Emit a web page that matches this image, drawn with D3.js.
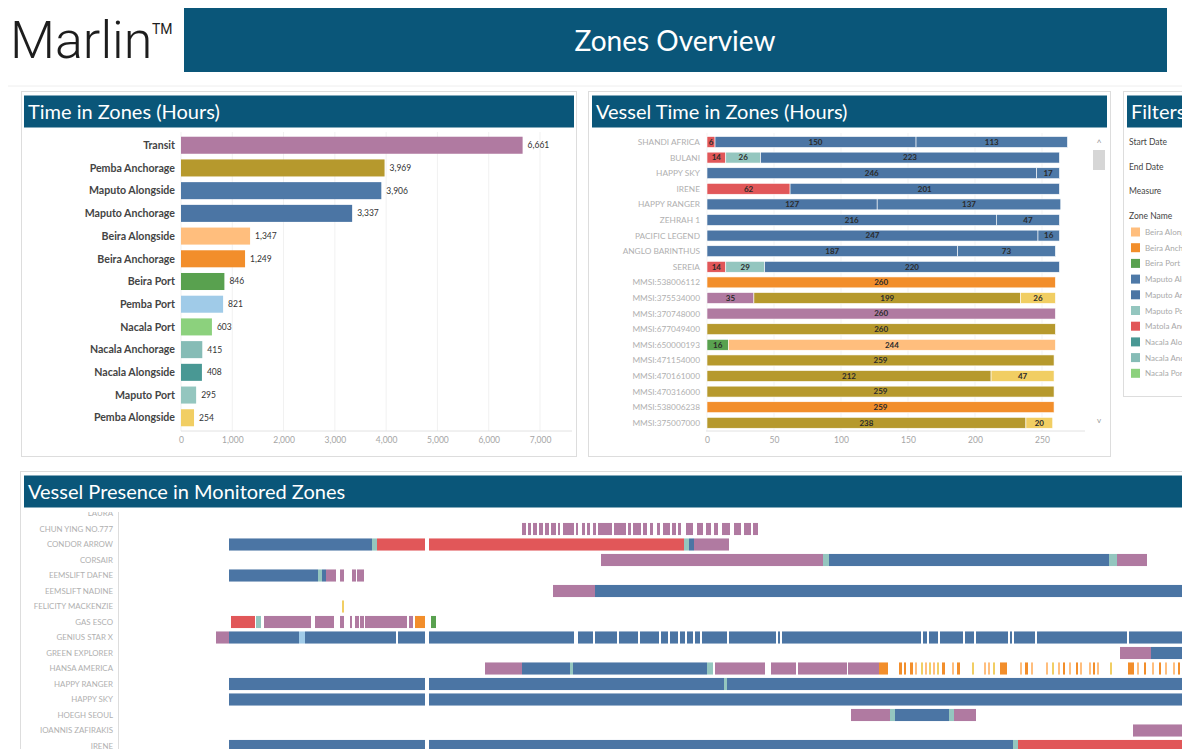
<!DOCTYPE html>
<html>
<head>
<meta charset="utf-8">
<title>Zones Overview</title>
<script src="https://cdn.jsdelivr.net/npm/d3@7"></script>
<style>
  body { margin: 0; background: #fff; overflow: hidden; }
  svg { display: block; font-family: Lato, "Open Sans", sans-serif; }
  .hdr { fill: #0a5679; }
  .hdrText { fill: #fff; font-family: Lato, sans-serif; font-size: 20px; }
  .panel { fill: #fff; stroke: #dddddd; }
  .axis text { fill: #a5a5a5; font-size: 8.5px; font-family: Lato, sans-serif; }
  .axis path, .axis line { stroke: none; }
</style>
</head>
<body>
<script>
// zone totals for the "Time in Zones" panel
var zoneNames = ["Transit", "Pemba Anchorage", "Maputo Alongside", "Maputo Anchorage", "Beira Alongside",
    "Beira Anchorage", "Beira Port", "Pemba Port", "Nacala Port", "Nacala Anchorage", "Nacala Alongside",
    "Maputo Port", "Pemba Alongside"];
var zoneHours = [6661, 3969, 3906, 3337, 1347, 1249, 846, 821, 603, 415, 408, 295, 254];
var zoneTicks = [0, 1000, 2000, 3000, 4000, 5000, 6000, 7000];

// vessel stacked hours, one list of [zone, hours] per vessel
var vesselNames = ["SHANDI AFRICA", "BULANI", "HAPPY SKY", "IRENE", "HAPPY RANGER", "ZEHRAH 1", "PACIFIC LEGEND",
    "ANGLO BARINTHUS", "SEREIA", "MMSI:538006112", "MMSI:375534000", "MMSI:370748000", "MMSI:677049400",
    "MMSI:650000193", "MMSI:471154000", "MMSI:470161000", "MMSI:470316000", "MMSI:538006238", "MMSI:375007000"];
var vesselStacks = [
    [["Matola Anchorage", 6], ["Maputo Anchorage", 150], ["Maputo Alongside", 113]],
    [["Matola Anchorage", 14], ["Maputo Port", 26], ["Maputo Anchorage", 223]],
    [["Maputo Anchorage", 246], ["Maputo Alongside", 17]],
    [["Matola Anchorage", 62], ["Maputo Anchorage", 201]],
    [["Maputo Anchorage", 127], ["Maputo Alongside", 137]],
    [["Maputo Anchorage", 216], ["Maputo Alongside", 47]],
    [["Maputo Anchorage", 247], ["Maputo Alongside", 16]],
    [["Maputo Anchorage", 187], ["Maputo Alongside", 73]],
    [["Matola Anchorage", 14], ["Maputo Port", 29], ["Maputo Anchorage", 220]],
    [["Beira Anchorage", 260]],
    [["Transit", 35], ["Pemba Anchorage", 199], ["Pemba Alongside", 26]],
    [["Transit", 260]],
    [["Pemba Anchorage", 260]],
    [["Beira Port", 16], ["Beira Alongside", 244]],
    [["Pemba Anchorage", 259]],
    [["Pemba Anchorage", 212], ["Pemba Alongside", 47]],
    [["Pemba Anchorage", 259]],
    [["Beira Anchorage", 259]],
    [["Pemba Anchorage", 238], ["Pemba Alongside", 20]]
];
var vesselTicks = [0, 50, 100, 150, 200, 250];

// filters panel
var filterLabels = ["Start Date", "End Date", "Measure", "Zone Name"];
var legendZones = ["Beira Alongside", "Beira Anchorage", "Beira Port", "Maputo Alongside", "Maputo Anchorage",
    "Maputo Port", "Matola Anchorage", "Nacala Alongside", "Nacala Anchorage", "Nacala Port"];

// presence timeline, hours from the period start
var ganttVessels = ["LAURA", "CHUN YING NO.777", "CONDOR ARROW", "CORSAIR", "EEMSLIFT DAFNE", "EEMSLIFT NADINE",
    "FELICITY MACKENZIE", "GAS ESCO", "GENIUS STAR X", "GREEN EXPLORER", "HANSA AMERICA", "HAPPY RANGER",
    "HAPPY SKY", "HOEGH SEOUL", "IOANNIS ZAFIRAKIS", "IRENE"];
var zoneCodes = { T: "Transit", MA: "Maputo Anchorage", MP: "Maputo Port", MT: "Matola Anchorage",
    BAn: "Beira Anchorage", BAl: "Beira Alongside", BP: "Beira Port", PAl: "Pemba Alongside", PP: "Pemba Port" };
var ganttSpans = [
    // vessel, zone, start, end
    ["CHUN YING NO.777", "T", 73.25, 74.25], ["CHUN YING NO.777", "T", 74.75, 75.5], ["CHUN YING NO.777", "T", 76, 77],
    ["CHUN YING NO.777", "T", 77.5, 78.5], ["CHUN YING NO.777", "T", 79, 80], ["CHUN YING NO.777", "T", 80.5, 81.75],
    ["CHUN YING NO.777", "T", 82.25, 82.75], ["CHUN YING NO.777", "T", 83.5, 86.25], ["CHUN YING NO.777", "T", 86.75, 87.25],
    ["CHUN YING NO.777", "T", 88.25, 89], ["CHUN YING NO.777", "T", 89.5, 90.25], ["CHUN YING NO.777", "T", 91, 91.75],
    ["CHUN YING NO.777", "T", 92.25, 95.75], ["CHUN YING NO.777", "T", 96.25, 99.25], ["CHUN YING NO.777", "T", 99.75, 100.5],
    ["CHUN YING NO.777", "T", 101, 103], ["CHUN YING NO.777", "T", 103.5, 104.5], ["CHUN YING NO.777", "T", 105.25, 106],
    ["CHUN YING NO.777", "T", 107, 107.75], ["CHUN YING NO.777", "T", 108.5, 110.25], ["CHUN YING NO.777", "T", 110.75, 111.75],
    ["CHUN YING NO.777", "T", 112.25, 113], ["CHUN YING NO.777", "T", 114.25, 116], ["CHUN YING NO.777", "T", 117, 118.5],
    ["CHUN YING NO.777", "T", 119.25, 120.5], ["CHUN YING NO.777", "T", 121.25, 122.25], ["CHUN YING NO.777", "T", 123.25, 125.25],
    ["CHUN YING NO.777", "T", 126.25, 128], ["CHUN YING NO.777", "T", 128.75, 130.5], ["CHUN YING NO.777", "T", 131, 132.25],
    ["CONDOR ARROW", "MA", 0, 35.75], ["CONDOR ARROW", "MP", 35.75, 37], ["CONDOR ARROW", "MT", 37, 49],
    ["CONDOR ARROW", "MT", 50, 113.75], ["CONDOR ARROW", "MP", 113.75, 115], ["CONDOR ARROW", "MA", 115, 116.25],
    ["CONDOR ARROW", "T", 116.25, 125],
    ["CORSAIR", "T", 93, 148.5], ["CORSAIR", "MP", 148.5, 150], ["CORSAIR", "MA", 150, 220],
    ["CORSAIR", "MP", 220, 222], ["CORSAIR", "T", 222, 229.5],
    ["EEMSLIFT DAFNE", "MA", 0, 22.25], ["EEMSLIFT DAFNE", "MP", 22.25, 23.25], ["EEMSLIFT DAFNE", "MA", 23.25, 24.25],
    ["EEMSLIFT DAFNE", "T", 24.25, 26.75], ["EEMSLIFT DAFNE", "T", 27.75, 28.75], ["EEMSLIFT DAFNE", "T", 30.75, 31.75],
    ["EEMSLIFT DAFNE", "T", 32, 33.75],
    ["EEMSLIFT NADINE", "T", 81, 91.5], ["EEMSLIFT NADINE", "MA", 91.5, 245],
    ["FELICITY MACKENZIE", "PAl", 28.25, 28.75],
    ["GAS ESCO", "MT", 0.5, 6.5], ["GAS ESCO", "MP", 6.75, 8], ["GAS ESCO", "T", 8.75, 20.5],
    ["GAS ESCO", "T", 21.5, 26.25], ["GAS ESCO", "T", 27.75, 28.75], ["GAS ESCO", "T", 30.25, 30.75],
    ["GAS ESCO", "T", 31.5, 32.5], ["GAS ESCO", "T", 32.75, 33.75], ["GAS ESCO", "T", 34, 44.5],
    ["GAS ESCO", "T", 45, 46], ["GAS ESCO", "BAn", 46.5, 49], ["GAS ESCO", "BP", 50.5, 51.75],
    ["GENIUS STAR X", "T", -3.25, 0], ["GENIUS STAR X", "MA", 0, 17.5], ["GENIUS STAR X", "PP", 17.5, 19],
    ["GENIUS STAR X", "MA", 19, 41.75], ["GENIUS STAR X", "MA", 42.25, 49], ["GENIUS STAR X", "MA", 50, 86.25],
    ["GENIUS STAR X", "MA", 87.25, 91], ["GENIUS STAR X", "MA", 91.5, 97], ["GENIUS STAR X", "MA", 97.5, 102.25],
    ["GENIUS STAR X", "MA", 102.75, 107.5], ["GENIUS STAR X", "MA", 108, 109.75], ["GENIUS STAR X", "MA", 110.25, 112.25],
    ["GENIUS STAR X", "MA", 112.75, 114], ["GENIUS STAR X", "MA", 114.5, 116], ["GENIUS STAR X", "MA", 116.5, 117.75],
    ["GENIUS STAR X", "MA", 118.25, 124.5], ["GENIUS STAR X", "MA", 125, 136.75], ["GENIUS STAR X", "MA", 137.25, 137.75],
    ["GENIUS STAR X", "MA", 138.25, 173], ["GENIUS STAR X", "MA", 173.5, 174.5], ["GENIUS STAR X", "MA", 175, 177.25],
    ["GENIUS STAR X", "MA", 177.75, 183.5], ["GENIUS STAR X", "MA", 184, 186.25], ["GENIUS STAR X", "MA", 186.75, 194.75],
    ["GENIUS STAR X", "MA", 195.25, 195.75], ["GENIUS STAR X", "MA", 196.25, 201.5], ["GENIUS STAR X", "MA", 202, 224.5],
    ["GENIUS STAR X", "MA", 225, 245],
    ["GREEN EXPLORER", "T", 222.75, 230.5], ["GREEN EXPLORER", "MA", 230.5, 245],
    ["HANSA AMERICA", "T", 64, 73.25], ["HANSA AMERICA", "MA", 73.25, 85.25], ["HANSA AMERICA", "MP", 85.25, 86],
    ["HANSA AMERICA", "MA", 86, 119.5], ["HANSA AMERICA", "MP", 119.5, 121], ["HANSA AMERICA", "T", 121.5, 134],
    ["HANSA AMERICA", "T", 135.5, 141.75], ["HANSA AMERICA", "T", 142.25, 154.5], ["HANSA AMERICA", "T", 154.75, 162.5],
    ["HANSA AMERICA", "BAn", 162.5, 164.75], ["HANSA AMERICA", "BAn", 167.5, 168.25], ["HANSA AMERICA", "BAn", 168.75, 169.25],
    ["HANSA AMERICA", "BAn", 170.25, 171], ["HANSA AMERICA", "BAl", 171.5, 172], ["HANSA AMERICA", "PAl", 173, 173.5],
    ["HANSA AMERICA", "BAl", 174, 174.5], ["HANSA AMERICA", "PAl", 175, 175.5], ["HANSA AMERICA", "BAl", 176, 176.5],
    ["HANSA AMERICA", "PAl", 177, 177.5], ["HANSA AMERICA", "BAn", 178.25, 179], ["HANSA AMERICA", "BAl", 180.75, 181.25],
    ["HANSA AMERICA", "BAn", 182, 182.75], ["HANSA AMERICA", "PAl", 185.75, 186.25], ["HANSA AMERICA", "BAl", 188.75, 189.25],
    ["HANSA AMERICA", "BAl", 189.75, 190.25], ["HANSA AMERICA", "PAl", 191, 191.5], ["HANSA AMERICA", "BAn", 192.75, 194.5],
    ["HANSA AMERICA", "BAl", 197.75, 198.25], ["HANSA AMERICA", "BAn", 199, 199.75], ["HANSA AMERICA", "BAl", 200.5, 201],
    ["HANSA AMERICA", "BAl", 204.25, 204.75], ["HANSA AMERICA", "PAl", 205.75, 206.25], ["HANSA AMERICA", "BAl", 207.25, 207.75],
    ["HANSA AMERICA", "BAn", 208.5, 209], ["HANSA AMERICA", "BAl", 210, 210.5], ["HANSA AMERICA", "BAn", 211.75, 212.25],
    ["HANSA AMERICA", "BAl", 212.75, 213.25], ["HANSA AMERICA", "BAl", 215, 215.5], ["HANSA AMERICA", "BAn", 216, 216.5],
    ["HANSA AMERICA", "BAl", 217, 217.5], ["HANSA AMERICA", "PAl", 220.25, 220.75], ["HANSA AMERICA", "BAn", 224.75, 226.25],
    ["HANSA AMERICA", "BAl", 227, 227.5], ["HANSA AMERICA", "BAn", 228.75, 229.25], ["HANSA AMERICA", "BAl", 230.75, 231.25],
    ["HANSA AMERICA", "BAn", 232.5, 233], ["HANSA AMERICA", "BAl", 234, 234.5], ["HANSA AMERICA", "BAl", 236, 236.5],
    ["HANSA AMERICA", "BAn", 237.25, 237.75],
    ["HAPPY RANGER", "MA", 0, 49], ["HAPPY RANGER", "MA", 50, 123.75], ["HAPPY RANGER", "MP", 123.75, 124.5],
    ["HAPPY RANGER", "MA", 124.5, 245],
    ["HAPPY SKY", "MA", 0, 49], ["HAPPY SKY", "MA", 50, 245],
    ["HOEGH SEOUL", "T", 155.5, 165.25], ["HOEGH SEOUL", "MP", 165.25, 166.5], ["HOEGH SEOUL", "MA", 166.5, 180],
    ["HOEGH SEOUL", "MP", 180, 181.25], ["HOEGH SEOUL", "T", 181.25, 186.75],
    ["IOANNIS ZAFIRAKIS", "T", 226, 245],
    ["IRENE", "MA", 0, 49], ["IRENE", "MA", 50, 196], ["IRENE", "MP", 196, 197.25], ["IRENE", "MT", 197.25, 245]
];

window.onload = function () {

    var w = 1182, h = 749;

    //colour for every zone
    var allZones = ["Transit", "Pemba Anchorage", "Maputo Alongside", "Maputo Anchorage", "Beira Alongside",
        "Beira Anchorage", "Beira Port", "Pemba Port", "Nacala Port", "Nacala Anchorage", "Nacala Alongside",
        "Maputo Port", "Pemba Alongside", "Matola Anchorage"];
    var color = d3.scaleOrdinal()
        .domain(allZones)
        .range(["#b07aa1", "#b6992d", "#4e79a7", "#4b75a4", "#ffbe7d", "#f28e2b", "#59a14f", "#a0cbe8",
            "#8cd17d", "#86bcb6", "#499894", "#94c6bf", "#f1ce63", "#e15759"]);

    var svg = d3.select("body")
        .append("svg")
        .attr("width", w)
        .attr("height", h);

    //page header
    svg.append("text")
        .attr("x", 10)
        .attr("y", 58)
        .style("font-family", "Roboto, sans-serif")
        .style("font-weight", 300)
        .style("font-size", "52px")
        .style("fill", "#1d1d1d")
        .text("Marlin");
    svg.append("text")
        .attr("x", 152)
        .attr("y", 34)
        .style("font-family", "Roboto, sans-serif")
        .style("font-size", "14px")
        .style("fill", "#1d1d1d")
        .text("TM");
    svg.append("rect")
        .attr("class", "hdr")
        .attr("x", 184).attr("y", 8)
        .attr("width", 983).attr("height", 64);
    svg.append("text")
        .attr("x", 675)
        .attr("y", 51)
        .attr("text-anchor", "middle")
        .style("font-family", "Lato, sans-serif")
        .style("font-size", "28px")
        .style("fill", "#fff")
        .text("Zones Overview");
    svg.append("line")
        .attr("x1", 8).attr("x2", 1182)
        .attr("y1", 86).attr("y2", 86)
        .style("stroke", "#eeeeee");

    //clip for the cut-off filters panel
    svg.append("clipPath")
        .attr("id", "pageClip")
        .append("rect")
        .attr("x", 0).attr("y", 0)
        .attr("width", w).attr("height", h);

    //panel frames and title bars
    function panel(x, y, pw, ph, hx, hw, title) {
        var g = svg.append("g").attr("clip-path", "url(#pageClip)");
        g.append("rect")
            .attr("class", "panel")
            .attr("x", x).attr("y", y)
            .attr("width", pw).attr("height", ph);
        g.append("rect")
            .attr("class", "hdr")
            .attr("x", hx).attr("y", y + 4)
            .attr("width", hw).attr("height", 32);
        g.append("text")
            .attr("class", "hdrText")
            .attr("x", hx + 4)
            .attr("y", y + 27)
            .text(title);
    }
    panel(21.5, 91.5, 555, 365, 24, 550, "Time in Zones (Hours)");
    panel(588.5, 91.5, 522, 365, 592, 515, "Vessel Time in Zones (Hours)");
    panel(1123.5, 91.5, 80, 305, 1127, 70, "Filters");
    panel(20.5, 471.5, 1180, 290, 24, 1170, "Vessel Presence in Monitored Zones");

    //---- time in zones ----
    var zoneData = zoneNames.map(function (d, i) { return { zone: d, hours: zoneHours[i] }; });

    var x1 = d3.scaleLinear()
        .domain([0, 7000])
        .range([181, 540]);
    var y1 = d3.scaleBand()
        .domain(zoneNames)
        .range([134, 429])
        .paddingInner(0.25)
        .paddingOuter(0.12);

    svg.append("g").selectAll("line")
        .data(zoneTicks)
        .enter()
        .append("line")
        .attr("x1", function (d) { return x1(d); })
        .attr("x2", function (d) { return x1(d); })
        .attr("y1", 132).attr("y2", 431)
        .style("stroke", "#f1f1f1");
    svg.append("line")
        .attr("x1", 181).attr("x2", 572)
        .attr("y1", 431).attr("y2", 431)
        .style("stroke", "#e2e2e2");

    svg.append("g").selectAll("rect")
        .data(zoneData)
        .enter()
        .append("rect")
        .attr("x", x1(0))
        .attr("y", function (d) { return y1(d.zone); })
        .attr("width", function (d) { return x1(d.hours) - x1(0); })
        .attr("height", y1.bandwidth())
        .style("fill", function (d) { return color(d.zone); });

    svg.append("g").selectAll("text")
        .data(zoneData)
        .enter()
        .append("text")
        .attr("x", 175)
        .attr("y", function (d) { return y1(d.zone) + y1.bandwidth() / 2; })
        .attr("dy", "0.35em")
        .attr("text-anchor", "end")
        .style("font-size", "10.6px")
        .style("font-weight", 700)
        .style("fill", "#444")
        .text(function (d) { return d.zone; });

    var fmt = d3.format(",");
    svg.append("g").selectAll("text")
        .data(zoneData)
        .enter()
        .append("text")
        .attr("x", function (d) { return x1(d.hours) + 5; })
        .attr("y", function (d) { return y1(d.zone) + y1.bandwidth() / 2; })
        .attr("dy", "0.35em")
        .style("font-size", "8.5px")
        .style("fill", "#333")
        .text(function (d) { return fmt(d.hours); });

    svg.append("g")
        .attr("class", "axis")
        .attr("transform", "translate(0,432)")
        .call(d3.axisBottom(x1).tickValues(zoneTicks).tickFormat(fmt).tickSize(0).tickPadding(5));

    //---- vessel time in zones ----
    var segs = [];
    vesselStacks.forEach(function (stack, i) {
        var run = 0;
        stack.forEach(function (s) {
            segs.push({ vessel: vesselNames[i], zone: s[0], value: s[1], x0: run, x1: run + s[1] });
            run += s[1];
        });
    });

    var x2 = d3.scaleLinear()
        .domain([0, 250])
        .range([707, 1042]);
    var y2 = d3.scaleBand()
        .domain(vesselNames)
        .range([134.2, 430.6])
        .paddingInner(0.3)
        .paddingOuter(0.15);

    svg.append("g").selectAll("line")
        .data(vesselTicks)
        .enter()
        .append("line")
        .attr("x1", function (d) { return x2(d); })
        .attr("x2", function (d) { return x2(d); })
        .attr("y1", 133).attr("y2", 431)
        .style("stroke", "#f3f3f3");
    svg.append("line")
        .attr("x1", 706).attr("x2", 1085)
        .attr("y1", 431).attr("y2", 431)
        .style("stroke", "#e2e2e2");

    svg.append("g").selectAll("rect")
        .data(segs)
        .enter()
        .append("rect")
        .attr("x", function (d) { return x2(d.x0); })
        .attr("y", function (d) { return y2(d.vessel); })
        .attr("width", function (d) { return x2(d.x1) - x2(d.x0); })
        .attr("height", y2.bandwidth())
        .style("fill", function (d) { return color(d.zone); })
        .style("stroke", "#fff")
        .style("stroke-width", 0.6);

    svg.append("g").selectAll("text")
        .data(segs)
        .enter()
        .append("text")
        .attr("x", function (d) { return x2((d.x0 + d.x1) / 2); })
        .attr("y", function (d) { return y2(d.vessel) + y2.bandwidth() / 2; })
        .attr("dy", "0.35em")
        .attr("text-anchor", "middle")
        .style("font-size", "8px")
        .style("font-weight", 700)
        .style("fill", "#2a2a2a")
        .text(function (d) { return d.value; });

    svg.append("g").selectAll("text")
        .data(vesselNames)
        .enter()
        .append("text")
        .attr("x", 700)
        .attr("y", function (d) { return y2(d) + y2.bandwidth() / 2; })
        .attr("dy", "0.35em")
        .attr("text-anchor", "end")
        .style("font-size", "8.3px")
        .style("fill", "#b0b0b0")
        .text(function (d) { return d; });

    svg.append("g")
        .attr("class", "axis")
        .attr("transform", "translate(0,432)")
        .call(d3.axisBottom(x2).tickValues(vesselTicks).tickSize(0).tickPadding(5));

    //scroll bar
    svg.append("rect")
        .attr("x", 1093).attr("y", 150)
        .attr("width", 12).attr("height", 20)
        .style("fill", "#d6d6d6");
    svg.append("text")
        .attr("x", 1099).attr("y", 146)
        .attr("text-anchor", "middle")
        .style("font-size", "9px")
        .style("fill", "#999")
        .text("^");
    svg.append("text")
        .attr("x", 1099).attr("y", 423)
        .attr("text-anchor", "middle")
        .style("font-size", "8px")
        .style("fill", "#999")
        .text("v");

    //---- filters ----
    var filt = svg.append("g").attr("clip-path", "url(#pageClip)");
    filt.selectAll(".flabel")
        .data(filterLabels)
        .enter()
        .append("text")
        .attr("class", "flabel")
        .attr("x", 1129)
        .attr("y", function (d, i) { return 145 + i * 24.5; })
        .style("font-size", "8.5px")
        .style("fill", "#444")
        .text(function (d) { return d; });

    var leg = filt.selectAll(".leg")
        .data(legendZones)
        .enter()
        .append("g")
        .attr("class", "leg")
        .attr("transform", function (d, i) { return "translate(1131," + (227.5 + i * 15.7) + ")"; });
    leg.append("rect")
        .attr("width", 9).attr("height", 9)
        .style("fill", function (d) { return color(d); });
    leg.append("text")
        .attr("x", 14).attr("y", 7.5)
        .style("font-size", "8px")
        .style("fill", "#a9a9a9")
        .text(function (d) { return d; });

    //---- vessel presence ----
    var xg = d3.scaleLinear()
        .domain([0, 240])
        .range([229, 1189]);
    var yg = d3.scaleBand()
        .domain(ganttVessels)
        .range([505.75, 753.75])
        .paddingInner(0.22)
        .paddingOuter(0.11);

    svg.append("clipPath")
        .attr("id", "ganttClip")
        .append("rect")
        .attr("x", 0).attr("y", 512)
        .attr("width", w).attr("height", h - 512);

    var gantt = svg.append("g").attr("clip-path", "url(#ganttClip)");

    gantt.append("line")
        .attr("x1", 118.5).attr("x2", 118.5)
        .attr("y1", 511).attr("y2", h)
        .style("stroke", "#dddddd");

    gantt.selectAll(".glabel")
        .data(ganttVessels)
        .enter()
        .append("text")
        .attr("class", "glabel")
        .attr("x", 113)
        .attr("y", function (d) { return yg(d) + yg.bandwidth() / 2; })
        .attr("dy", "0.35em")
        .attr("text-anchor", "end")
        .style("font-size", "7.9px")
        .style("fill", "#b0b0b0")
        .text(function (d) { return d; });

    gantt.selectAll(".gbar")
        .data(ganttSpans)
        .enter()
        .append("rect")
        .attr("class", "gbar")
        .attr("x", function (d) { return xg(d[2]); })
        .attr("y", function (d) { return yg(d[0]); })
        .attr("width", function (d) { return xg(d[3]) - xg(d[2]); })
        .attr("height", yg.bandwidth())
        .style("fill", function (d) { return color(zoneCodes[d[1]]); });
};
</script>
</body>
</html>
